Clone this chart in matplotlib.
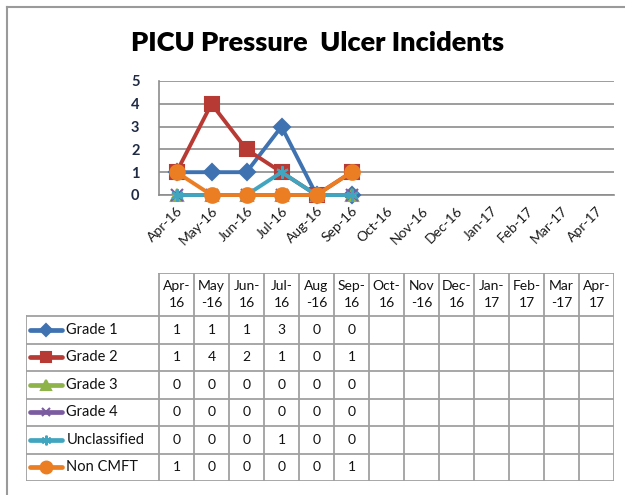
import matplotlib.pyplot as plt
from matplotlib.lines import Line2D

plt.rcParams['font.family'] = ['Lato', 'DejaVu Sans']

# chart data
months = ['Apr-16', 'May-16', 'Jun-16', 'Jul-16', 'Aug-16', 'Sep-16', 'Oct-16',
          'Nov-16', 'Dec-16', 'Jan-17', 'Feb-17', 'Mar-17', 'Apr-17']
grade_1 = [1, 1, 1, 3, 0, 0]
grade_2 = [1, 4, 2, 1, 0, 1]
grade_3 = [0, 0, 0, 0, 0, 0]
grade_4 = [0, 0, 0, 0, 0, 0]
unclassified = [0, 0, 0, 1, 0, 0]
non_cmft = [1, 0, 0, 0, 0, 1]

series = [
    ('Grade 1', grade_1, '#3F72B0', 'D', 8.5),
    ('Grade 2', grade_2, '#B83A35', 's', 9.5),
    ('Grade 3', grade_3, '#8DB34A', '^', 9),
    ('Grade 4', grade_4, '#7B5CA0', 'x', 8),
    ('Unclassified', unclassified, '#41A5C0', (6, 2, 0), 9),
    ('Non CMFT', non_cmft, '#EB7D23', 'o', 10.5),
]

W, H = 625, 495
fig = plt.figure(figsize=(W / 100, H / 100), dpi=100)


def box(x0, y0, x1, y1):
    # pixel box -> figure fraction rect
    return [x0 / W, 1 - y1 / H, (x1 - x0) / W, (y1 - y0) / H]


# outer chart border (cut off at right and bottom)
fig.add_artist(Line2D([7 / W, 1], [1 - 7 / H, 1 - 7 / H], color='#9A9A9A', lw=1.5))
fig.add_artist(Line2D([7 / W, 7 / W], [0, 1 - 7 / H], color='#9A9A9A', lw=1.5))

fig.text(318 / W, 1 - 43 / H, 'PICU Pressure  Ulcer Incidents', ha='center', va='center',
         fontsize=19.5, fontweight='heavy', color='black')

# line chart
ax = fig.add_axes(box(159, 81, 614, 195))
for name, vals, col, mk, ms in series:
    ax.plot(range(len(vals)), vals, color=col, lw=2.8, marker=mk, markersize=ms,
            markeredgecolor=col, markeredgewidth=1.5, zorder=3, clip_on=False)
ax.set_xlim(-0.5, len(months) - 0.5)
ax.set_ylim(0, 5)
ax.set_yticks(range(6))
ax.set_xticks(range(len(months)))
ax.set_xticklabels(months, rotation=45, ha='right', rotation_mode='anchor',
                   fontsize=10, color='#1A1A1A')
ax.tick_params(axis='x', length=0, pad=7)
ax.tick_params(axis='y', length=0, pad=14, labelsize=10.5, labelcolor='#1F2A44')
for lab in ax.get_yticklabels():
    lab.set_fontweight('bold')
ax.grid(axis='y', color='#8C8C8C', lw=1.2)
ax.set_axisbelow(True)
for s in ['top', 'right']:
    ax.spines[s].set_visible(False)
for s in ['left', 'bottom']:
    ax.spines[s].set_color('#8C8C8C')
    ax.spines[s].set_linewidth(1.2)

# data table below the chart
tab = fig.add_axes(box(26, 273, 614, 481))
left = -0.5 - (159 - 26) / 35
n = len(months)
head_h, row_h = 43, 27.5
tab.set_xlim(left, n - 0.5)
tab.set_ylim(head_h + row_h * len(series), 0)
tab.axis('off')

grid_kw = dict(color='#A0A0A0', lw=1.3, solid_capstyle='projecting')
bottom = head_h + row_h * len(series)
tab.plot([-0.5, n - 0.5], [0, 0], **grid_kw)
for i in range(len(series) + 1):
    y = head_h + row_h * i
    tab.plot([left, n - 0.5], [y, y], **grid_kw)
for j in range(n + 1):
    tab.plot([j - 0.5, j - 0.5], [0, bottom], **grid_kw)
tab.plot([left, left], [head_h, bottom], **grid_kw)

for j, m in enumerate(months):
    mon, yr = m.split('-')
    if mon in ('May', 'Aug', 'Nov', 'Mar'):
        txt = mon + '\n-' + yr
    else:
        txt = mon + '-\n' + yr
    tab.text(j, head_h / 2, txt, ha='center', va='center', fontsize=10,
             color='#111111', linespacing=1.45)

for i, (name, vals, col, mk, ms) in enumerate(series):
    yc = head_h + row_h * (i + 0.5)
    tab.plot([left + 0.12, left + 1.03], [yc, yc], color=col, lw=3.4,
             solid_capstyle='round')
    tab.plot([left + 0.57], [yc], marker=mk, color=col, markersize=ms - 2,
             markeredgecolor=col, markeredgewidth=1.5)
    tab.text(left + 1.15, yc, name, ha='left', va='center', fontsize=10.5,
             color='#111111')
    for j, v in enumerate(vals):
        tab.text(j, yc, str(v), ha='center', va='center', fontsize=10,
                 color='#111111')

fig.savefig('out.png', dpi=100, facecolor='white')
